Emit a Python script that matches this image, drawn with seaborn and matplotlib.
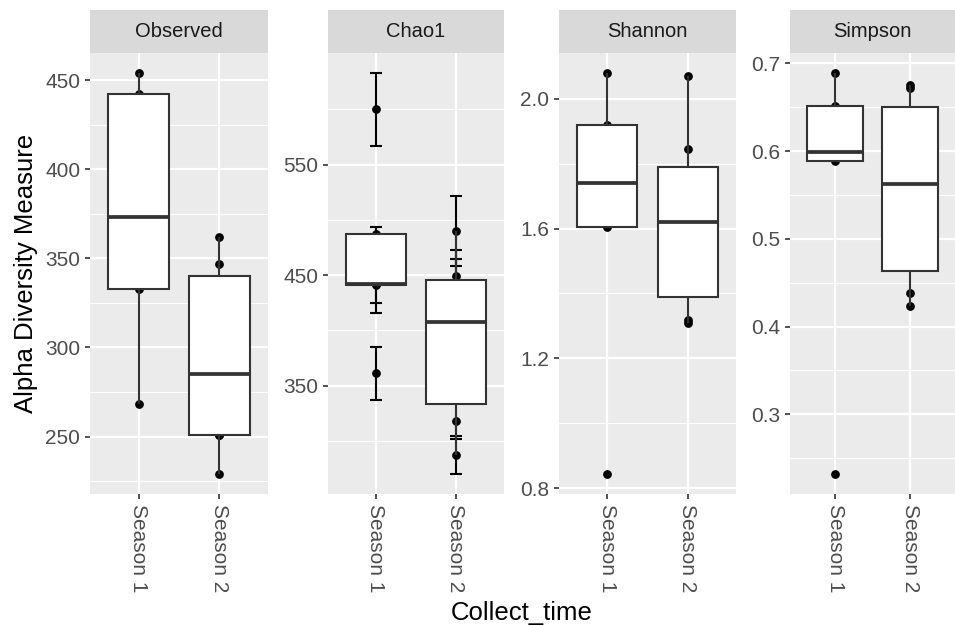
import numpy as np
import pandas as pd
import matplotlib
matplotlib.use("Agg")
import matplotlib.pyplot as plt
from matplotlib.patches import Rectangle
import seaborn as sns

# samples: 5 in season 1, 6 in season 2
seasons = ["Season 1", "Season 2"]
collect_time = ["Season 1"] * 5 + ["Season 2"] * 6

observed = [268, 333, 373, 442, 454, 229, 251, 251, 319, 347, 362]
chao1 = [361, 441, 442, 487, 600, 287, 318, 380, 436, 449, 490]
se_chao1 = [24, 25, 17, 7, 33, 17, 16, 30, 29, 24, 32]
shannon = [0.844, 1.605, 1.741, 1.920, 2.079, 1.308, 1.318, 1.606, 1.632, 1.844, 2.069]
simpson = [0.232, 0.589, 0.599, 0.652, 0.689, 0.423, 0.438, 0.538, 0.586, 0.672, 0.675]

measures = ["Observed", "Chao1", "Shannon", "Simpson"]
major_ticks = {
    "Observed": [250, 300, 350, 400, 450],
    "Chao1": [350, 450, 550],
    "Shannon": [0.8, 1.2, 1.6, 2.0],
    "Simpson": [0.3, 0.4, 0.5, 0.6, 0.7],
}
tick_fmt = {"Observed": "{:.0f}", "Chao1": "{:.0f}", "Shannon": "{:.1f}", "Simpson": "{:.1f}"}

df = pd.DataFrame({
    "Collect_time": collect_time * 4,
    "variable": np.repeat(measures, len(collect_time)),
    "value": observed + chao1 + shannon + simpson,
    "se": [np.nan] * 11 + se_chao1 + [np.nan] * 22,
})

plt.rcParams["font.family"] = ["Liberation Sans", "DejaVu Sans"]

W, H = 955, 625
panel_x = [(90, 268), (328, 504), (559, 736), (790, 955)]  # pixel edges of the panels
panel_top, panel_bottom = 53, 494

fig = plt.figure(figsize=(W / 100, H / 100), dpi=100)

for (x0, x1), m in zip(panel_x, measures):
    ax = fig.add_axes([x0 / W, 1 - panel_bottom / H, (x1 - x0) / W, (panel_bottom - panel_top) / H])
    d = df[df["variable"] == m]
    ax.set_facecolor("#EBEBEB")
    ax.set_axisbelow(True)

    sns.stripplot(data=d, x="Collect_time", y="value", order=seasons, jitter=False,
                  color="black", size=6.3, ax=ax, zorder=1.5)
    lo = d["value"].min()
    hi = d["value"].max()
    if m == "Chao1":
        xpos = d["Collect_time"].map({s: i for i, s in enumerate(seasons)})
        ax.errorbar(xpos, d["value"], yerr=d["se"], fmt="none", ecolor="black",
                    elinewidth=1.5, capsize=4.5, capthick=1.5, zorder=1.4)
        lo = (d["value"] - d["se"]).min()
        hi = (d["value"] + d["se"]).max()
    sns.boxplot(data=d, x="Collect_time", y="value", order=seasons, width=0.75,
                color="white", saturation=1, linecolor="#333333", linewidth=1.5,
                showfliers=False, showcaps=False,
                medianprops=dict(linewidth=2.7, color="#333333"), ax=ax)

    pad = (hi - lo) * 0.05
    ax.set_ylim(lo - pad, hi + pad)
    ax.set_xlim(-0.6, 1.6)

    t = major_ticks[m]
    step = t[1] - t[0]
    minor = [v for v in np.arange(t[0] - step / 2, t[-1] + step, step) if lo - pad < v < hi + pad]
    ax.set_yticks(t)
    ax.set_yticklabels([tick_fmt[m].format(v) for v in t])
    ax.set_yticks(minor, minor=True)
    ax.grid(True, which="major", color="white", linewidth=1.6)
    ax.grid(True, which="minor", axis="y", color="white", linewidth=0.8)
    ax.tick_params(axis="y", which="minor", length=0)
    ax.tick_params(axis="both", which="major", length=3.6, width=1.2, color="#333333",
                   labelsize=15, labelcolor="#4D4D4D", pad=3.5)
    ax.tick_params(axis="x", labelrotation=-90)
    for s in ax.spines.values():
        s.set_visible(False)
    ax.set_xlabel("")
    ax.set_ylabel("")

    # facet strip
    strip_h = 43 / (panel_bottom - panel_top)
    ax.add_patch(Rectangle((0, 1), 1, strip_h, transform=ax.transAxes,
                           facecolor="#D9D9D9", edgecolor="none", clip_on=False))
    ax.text(0.5, 1 + strip_h / 2, m, transform=ax.transAxes, ha="center", va="center",
            fontsize=14.5, color="#1A1A1A")

fig.text(0.027, 0.562, "Alpha Diversity Measure", rotation=90, ha="center", va="center",
         fontsize=18.5, color="black")
fig.text(0.546, 0.008, "Collect_time", ha="center", va="baseline", fontsize=18.5, color="black")

fig.savefig("out.png", dpi=100)
